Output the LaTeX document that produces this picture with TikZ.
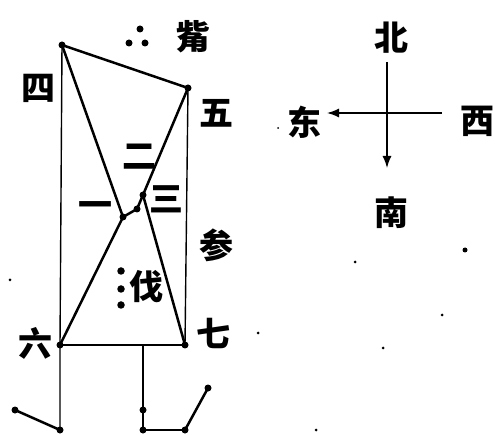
\documentclass[tikz,border=0pt]{standalone}
\usepackage{fontspec}
\newfontfamily\cjk{Noto Sans CJK SC}
\usetikzlibrary{arrows.meta}
\begin{document}
\begin{tikzpicture}[x=1pt,y=-1pt,
  star/.style={circle,fill=black,inner sep=0pt,minimum size=7pt},
  dotmark/.style={circle,fill=black,inner sep=0pt,minimum size=3pt},
  lbl/.style={font=\cjk\bfseries\fontsize{34}{34}\selectfont,inner sep=0pt},
  thickl/.style={line width=2.5pt},
  thinl/.style={line width=1.4pt},
  comp/.style={line width=1.4pt,-{Latex[length=12pt,width=9pt]}}]
\fill[white] (0,0) rectangle (495,435);
\useasboundingbox (0,0) rectangle (495,435);
% stars
\node[star] (si) at (62,45) {};
\node[star] (wu) at (188,88) {};
\node[star] (liu) at (60,345) {};
\node[star] (qi) at (185,345) {};
\node[star] (yi) at (123,217) {};
\node[star] (er) at (137,209) {};
\node[star] (san) at (143,195) {};
\coordinate (m0) at (143,345);
\node[star] (m1) at (143,410) {};
\node[star] (m2) at (143,430) {};
\node[star] (m3) at (185,430) {};
\node[star] (m4) at (208,388) {};
\node[star] (b1) at (60,430) {};
\node[star] (b0) at (15,410) {};
% zi stars
\node[star] (z1) at (140,29) {};
\node[star] (z2) at (129,43) {};
\node[star] (z3) at (145,43) {};
% fa stars
\node[star,minimum size=7.5pt] (f1) at (121,271) {};
\node[star,minimum size=7.5pt] (f2) at (121,289) {};
\node[star,minimum size=7.5pt] (f3) at (121,305) {};
% lines
\draw[thickl] (si.center) -- (wu.center);
\draw[thinl] (si.center) -- (liu.center) -- (b1.center);
\draw[thinl] (wu.center) -- (qi.center);
\draw[thickl] (si.center) -- (yi.center) -- (liu.center);
\draw[thickl] (wu.center) -- (san.center) -- (qi.center);
\draw[thickl] (yi.center) -- (er.center) -- (san.center);
\draw[thickl] (liu.center) -- (qi.center);
\draw[thinl] (m0) -- (m1.center) -- (m2.center) -- (m3.center);
\draw[thickl] (m3.center) -- (m4.center);
\draw[thickl] (b1.center) -- (b0.center);
% labels
\node[lbl] (lzi) at (193,37) {觜};
\node[lbl] (lsi) at (38,88) {四};
\node[lbl] (lwu) at (216,113) {五};
\node[lbl] (ler) at (139,157) {二};
\node[lbl] (lyi) at (95,210) {一};
\node[lbl] (lsan) at (166,199) {三};
\node[lbl] (lcan) at (216,245) {参};
\node[lbl] (lfa) at (146,287) {伐};
\node[lbl] (lliu) at (35,343) {六};
\node[lbl] (lqi) at (213,333) {七};
% compass
\node[lbl] (bei) at (391,38) {北};
\node[lbl] (dong) at (304,122) {东};
\node[lbl] (xi) at (477,121) {西};
\node[lbl] (nan) at (391,213) {南};
\coordinate (cn) at (387,62);
\coordinate (cs) at (387,168);
\coordinate (cw) at (442,113);
\coordinate (ce) at (327,113);
\draw[comp] (cn) -- (cs);
\draw[comp] (cw) -- (ce);
% scattered dots
\node[dotmark,minimum size=5pt] (s1) at (465,250) {};
\node[dotmark] (s2) at (355,262) {};
\node[dotmark] (s3) at (442,315) {};
\node[dotmark] (s4) at (258,333) {};
\node[dotmark] (s5) at (383,348) {};
\node[dotmark] (s6) at (316,430) {};
\node[dotmark] (s7) at (10,280) {};
\node[dotmark,minimum size=2pt] (s8) at (278,128) {};
\end{tikzpicture}
\end{document}
